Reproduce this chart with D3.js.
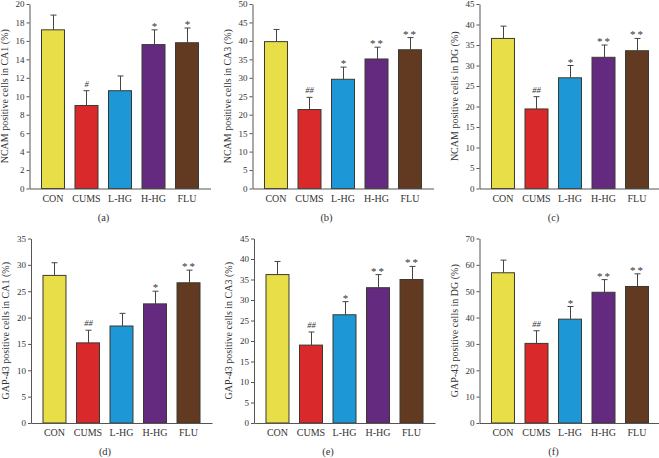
<!DOCTYPE html>
<html>
<head>
<meta charset="utf-8">
<script src="https://cdn.jsdelivr.net/npm/d3@7"></script>
<style>
  html, body { margin: 0; padding: 0; background: #fff; }
  svg { display: block; }
  text { font-family: "Liberation Serif", "DejaVu Serif", serif; fill: #333; }
</style>
</head>
<body>
<svg id="chart" width="659" height="458"></svg>
<script>
// ---- data ----
const categories = ["CON", "CUMS", "L-HG", "H-HG", "FLU"];
const colors = ["#E8DE48", "#D9292B", "#1E97D7", "#632A80", "#623A22"];

const panelLetters = ["(a)", "(b)", "(c)", "(d)", "(e)", "(f)"];
const yTitles = [
  "NCAM positive cells in CA1 (%)",
  "NCAM positive cells in CA3 (%)",
  "NCAM positive cells in DG (%)",
  "GAP-43 positive cells in CA1 (%)",
  "GAP-43 positive cells in CA3 (%)",
  "GAP-43 positive cells in DG (%)"
];
const yMax = [20, 50, 45, 35, 45, 70];
const yStep = [2, 5, 5, 5, 5, 10];

const ncamCA1 = [17.2, 9.0, 10.6, 15.6, 15.8];
const ncamCA1Err = [1.6, 1.6, 1.6, 1.6, 1.6];
const ncamCA3 = [39.8, 21.4, 29.6, 35.1, 37.6];
const ncamCA3Err = [3.3, 3.3, 3.3, 3.2, 3.3];
const ncamDG = [36.6, 19.4, 27.0, 32.0, 33.6];
const ncamDGErr = [3.0, 3.0, 3.0, 3.0, 3.0];
const gapCA1 = [28.0, 15.2, 18.4, 22.6, 26.6];
const gapCA1Err = [2.4, 2.4, 2.4, 2.4, 2.4];
const gapCA3 = [36.2, 19.0, 26.4, 33.0, 35.0];
const gapCA3Err = [3.2, 3.2, 3.2, 3.2, 3.2];
const gapDG = [57.0, 30.2, 39.4, 49.6, 51.8];
const gapDGErr = [4.8, 4.8, 4.8, 4.8, 4.8];

const sigA = ["", "#", "", "*", "*"];
const sigB = ["", "##", "*", "**", "**"];
const sigC = ["", "##", "*", "**", "**"];
const sigD = ["", "##", "", "*", "**"];
const sigE = ["", "##", "*", "**", "**"];
const sigF = ["", "##", "*", "**", "**"];

const seriesValues = [ncamCA1, ncamCA3, ncamDG, gapCA1, gapCA3, gapDG];
const seriesErrors = [ncamCA1Err, ncamCA3Err, ncamDGErr, gapCA1Err, gapCA3Err, gapDGErr];
const seriesSig = [sigA, sigB, sigC, sigD, sigE, sigF];

// ---- layout ----
const axisXs = [29.5, 252.5, 479.5, 31, 254, 479.5];
const rowTop = [4, 238.5];
const rowBase = [188.5, 423];
const axisLen = 181;

const svg = d3.select("#chart");

seriesValues.forEach((vals, p) => {
  const row = p < 3 ? 0 : 1;
  const ax = axisXs[p];
  const top = rowTop[row], base = rowBase[row];
  const g = svg.append("g");

  const x = d3.scaleBand().domain(categories)
    .range([ax, ax + axisLen]).paddingInner(0.284).paddingOuter(0.343);
  const y = d3.scaleLinear().domain([0, yMax[p]]).range([base, top]);

  // bars
  g.selectAll("rect.bar").data(vals).join("rect")
    .attr("class", "bar")
    .attr("x", (d, i) => x(categories[i]) + 0.5)
    .attr("y", d => y(d))
    .attr("width", x.bandwidth() - 1)
    .attr("height", d => base - y(d))
    .attr("fill", (d, i) => colors[i])
    .attr("stroke", "#3a3a30")
    .attr("stroke-width", 1);

  // error bars (upper only)
  const errs = seriesErrors[p];
  const capW = 6;
  vals.forEach((v, i) => {
    const cx = Math.round(x(categories[i]) + x.bandwidth() / 2) + 0.5;
    const yt = y(v + errs[i]);
    g.append("line").attr("x1", cx).attr("x2", cx)
      .attr("y1", y(v)).attr("y2", yt)
      .attr("stroke", "#444").attr("stroke-width", 1);
    g.append("line").attr("x1", cx - capW / 2).attr("x2", cx + capW / 2)
      .attr("y1", yt).attr("y2", yt)
      .attr("stroke", "#444").attr("stroke-width", 1);
    const s = seriesSig[p][i];
    if (s) {
      const isHash = s.indexOf("#") >= 0;
      g.append("text")
        .attr("x", cx)
        .attr("y", yt - (isHash ? 4 : 0))
        .attr("text-anchor", "middle")
        .attr("font-size", isHash ? "8.5px" : "11px")
        .attr("font-style", isHash ? "italic" : "normal")
        .attr("letter-spacing", s.length > 1 ? (isHash ? "0px" : "2px") : "0px")
        .text(s);
    }
  });

  // y axis
  const ticks = d3.range(0, yMax[p] + 0.001, yStep[p]);
  const yAxis = d3.axisLeft(y).tickValues(ticks).tickSize(3).tickSizeOuter(0).tickPadding(2);
  const ya = g.append("g").attr("transform", `translate(${ax},0)`).call(yAxis);
  ya.selectAll("text").attr("font-size", "9px").attr("fill", "#333")
    .style("font-family", '"Liberation Serif", serif');
  ya.selectAll("line, path").attr("stroke", "#555");

  // x axis line
  const xAxis = d3.axisBottom(x).tickSize(0).tickSizeOuter(0).tickPadding(6);
  const xa = g.append("g").attr("transform", `translate(0,${base})`).call(xAxis);
  xa.select("path").attr("stroke", "#555");
  xa.selectAll("text").attr("font-size", "10px").attr("fill", "#333")
    .style("font-family", '"Liberation Serif", serif');

  // y title
  g.append("text")
    .attr("transform", `translate(${ax - 22},${(top + base) / 2}) rotate(-90)`)
    .attr("text-anchor", "middle")
    .attr("font-size", "10px")
    .text(yTitles[p]);

  // panel letter
  g.append("text")
    .attr("x", ax + 74)
    .attr("y", base + 32)
    .attr("text-anchor", "middle")
    .attr("font-size", "10.5px")
    .text(panelLetters[p]);
});
</script>
</body>
</html>
